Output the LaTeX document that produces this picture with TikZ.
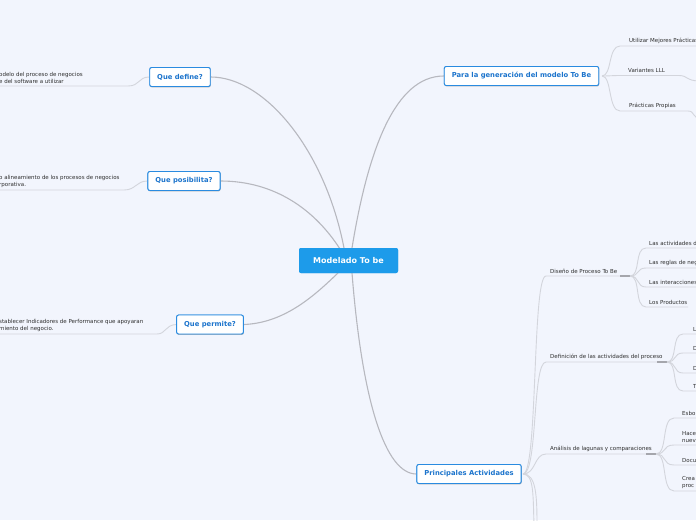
\documentclass[tikz,border=0pt]{standalone}
\usepackage{fontspec}
\setmainfont{DejaVu Sans}
\usetikzlibrary{shadows}
\definecolor{bgc}{HTML}{F2F5FD}
\definecolor{topicb}{HTML}{2A8BE0}
\definecolor{topict}{HTML}{1C74CC}
\definecolor{centralf}{HTML}{1D9BEA}
\definecolor{connc}{HTML}{B7B8BF}
\definecolor{ulc}{HTML}{D3D5DC}
\definecolor{leaft}{HTML}{2E2E2E}
\tikzset{
  central/.style={fill=centralf, text=white, font=\fontsize{8}{9}\selectfont\bfseries, rounded corners=2pt, minimum width=99pt, minimum height=25pt, inner sep=0pt},
  topic/.style={draw=topicb, line width=0.9pt, fill=white, text=topict, font=\fontsize{6.8}{7.8}\selectfont\bfseries, rounded corners=2pt, minimum height=19pt, inner xsep=7.5pt, inner ysep=0pt, drop shadow={shadow xshift=0.4pt, shadow yshift=-0.9pt, fill=black!35, opacity=0.5}},
  leaf/.style={text=leaft, font=\fontsize{5.5}{6.8}\selectfont, anchor=south west, inner sep=0pt, align=left},
  conn/.style={draw=connc, line width=1.1pt},
  ul/.style={draw=ulc, line width=0.9pt},
  uldark/.style={draw=connc!90!black, line width=1.2pt},
}
\begin{document}
\begin{tikzpicture}[x=1pt,y=-1pt]
\useasboundingbox (0,0) rectangle (696,520);
\fill[bgc] (0,0) rectangle (696,520);
\clip (0,0) rectangle (696,520);

% ---------- main connectors ----------
\coordinate (c1) at (344,248);
\coordinate (c2) at (340,249);
\coordinate (c3) at (338,273);
\coordinate (c4) at (352,248);
\coordinate (c5) at (352,273);

\node[central] (c) at (348.5,260.5) {Modelado To be};
\node[topic] (qd) at (180,77) {Que define?};
\node[topic] (qp) at (184,181) {Que posibilita?};
\node[topic] (qm) at (210,324.5) {Que permite?};
\node[topic] (pg) at (521.5,76) {Para la generación del modelo To Be};
\node[topic] (pa) at (469,474) {Principales Actividades};

\draw[conn] (qd.east) .. controls (265,77) and (325,150) .. (c1);
\draw[conn] (qp.east) .. controls (275,181) and (315,210) .. (c2);
\draw[conn] (qm.east) .. controls (285,323) and (315,295) .. (c3);
\draw[conn] (pg.west) .. controls (395,76) and (368,150) .. (c4);
\draw[conn] (pa.west) .. controls (385,474) and (362,400) .. (c5);

% ---------- left leaves ----------
\coordinate (l1e) at (128,86);
\node[leaf] (l1) at (-1,83.5) {odelo del proceso de negocios\\e del software a utilizar};
\draw[ul] (qd.west) .. controls (138,77) and (140,86) .. (l1e) -- (l1.south west |- l1e);

\coordinate (l2e) at (124,190);
\node[leaf] (l2) at (-1,187.5) {o alineamiento de los procesos de negocios\\rporativa.};
\draw[ul] (qp.west) .. controls (136,181) and (136,190) .. (l2e) -- (l2.south west |- l2e);

\coordinate (l3e) at (157,334);
\node[leaf] (l3) at (-1,331.5) {stablecer Indicadores de Performance que apoyaran\\miento del negocio.};
\draw[ul] (qm.west) .. controls (165,325) and (166,334) .. (l3e) -- (l3.south west |- l3e);

% ---------- Para la generacion leaves ----------
\coordinate (pgs) at (602,76);
\node[leaf] (r1) at (629,44) {Utilizar Mejores Prácticas};
\node[leaf] (r2) at (628,73) {Variantes LLL};
\node[leaf] (r3) at (629,109) {Prácticas Propias};
\coordinate (r1a) at (620,46);
\coordinate (r2a) at (620,75.5);
\coordinate (r3a) at (620,111);
\draw[ul] (pgs) .. controls (612,76) and (608,46) .. (r1a) -- (700,46);
\draw[ul] (pgs) .. controls (610,76) and (612,75.5) .. (r2a) -- (679,75.5) .. controls (688,75.5) and (686,81) .. (700,81);
\draw[ul] (pgs) .. controls (612,76) and (608,111) .. (r3a) -- (688,111) .. controls (695,111) and (692,118) .. (700,118);

% ---------- Principales Actividades ----------
\coordinate (pas) at (523,474);
\coordinate (d1a) at (546,276);
\coordinate (d1b) at (630,276);
\coordinate (d2a) at (546,362);
\coordinate (d2b) at (667,362);
\coordinate (d3a) at (546,454);
\coordinate (d3b) at (656,454);
\node[leaf] (d1) at (550,274) {Diseño de Proceso To Be};
\node[leaf] (d2) at (550,360) {Definición de las actividades del proceso};
\node[leaf] (d3) at (550,452) {Análisis de lagunas y comparaciones};
\draw[ul] (pas) .. controls (538,474) and (532,276) .. (d1a) -- (d1b);
\draw[ul] (pas) .. controls (538,474) and (532,362) .. (d2a) -- (d2b);
\draw[ul] (pas) .. controls (536,474) and (534,454) .. (d3a) -- (d3b);
\draw[ul] (pas) .. controls (534,474) and (533,495) .. (534,525);
\draw[ul] (pas) .. controls (536,474) and (537,495) .. (537,525);
\draw[uldark] ([xshift=-10pt]d1b) -- (d1b);
\draw[uldark] ([xshift=-10pt]d2b) -- (d2b);
\draw[uldark] ([xshift=-10pt]d3b) -- (d3b);

% Diseno children
\node[leaf] (e1) at (649,246) {Las actividades d};
\node[leaf] (e2) at (649,266) {Las reglas de neg};
\node[leaf] (e3) at (649,285) {Las interacciones};
\node[leaf] (e4) at (649,305) {Los Productos};
\draw[ul] (d1b) .. controls (641,276) and (634,248) .. (646,248) -- (700,248);
\draw[ul] (d1b) .. controls (640,276) and (636,268) .. (646,268) -- (700,268);
\draw[ul] (d1b) .. controls (640,276) and (636,287) .. (646,287) -- (700,287);
\draw[ul] (d1b) .. controls (641,276) and (634,307) .. (646,307) -- (688,307);

% Definicion children
\node[leaf] (f1) at (693,332) {L};
\node[leaf] (f2) at (693,351) {D};
\node[leaf] (f3) at (693,371) {D};
\node[leaf] (f4) at (693,389) {T};
\draw[ul] (d2b) .. controls (678,362) and (671,334) .. (683,334) -- (700,334);
\draw[ul] (d2b) .. controls (677,362) and (673,353) .. (683,353) -- (700,353);
\draw[ul] (d2b) .. controls (677,362) and (673,373) .. (683,373) -- (700,373);
\draw[ul] (d2b) .. controls (678,362) and (671,391) .. (683,391) -- (700,391);

% Analisis children
\node[leaf] (g1) at (682,416) {Esbo};
\node[leaf] (g2) at (682,443) {Hace\\nuev};
\node[leaf] (g3) at (682,463) {Docu};
\node[leaf] (g4) at (682,489) {Crea\\proc};
\draw[ul] (d3b) .. controls (668,454) and (661,418) .. (674,418) -- (700,418);
\draw[ul] (d3b) .. controls (667,454) and (662,445) .. (674,445) -- (700,445);
\draw[ul] (d3b) .. controls (667,454) and (662,465) .. (674,465) -- (700,465);
\draw[ul] (d3b) .. controls (668,454) and (661,491) .. (674,491) -- (700,491);

% redraw nodes on top of connectors
\node[central] at (c) {Modelado To be};
\node[topic] at (qd) {Que define?};
\node[topic] at (qp) {Que posibilita?};
\node[topic] at (qm) {Que permite?};
\node[topic] at (pg) {Para la generación del modelo To Be};
\node[topic] at (pa) {Principales Actividades};
\end{tikzpicture}
\end{document}
